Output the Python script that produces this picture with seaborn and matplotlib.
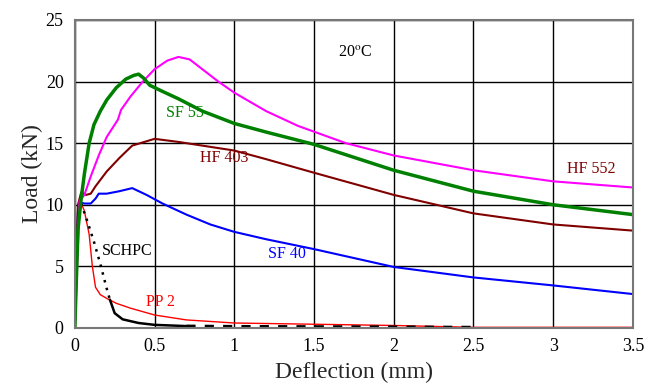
import matplotlib
matplotlib.use("Agg")
import matplotlib.pyplot as plt
import seaborn as sns
import pandas as pd

# ---- data ----
hf552_x = [0, 0.03, 0.06, 0.1, 0.15, 0.2, 0.27, 0.29, 0.35, 0.42, 0.5, 0.58, 0.65, 0.72, 0.8, 0.9, 1.0, 1.2, 1.4, 1.7, 2.0, 2.5, 3.0, 3.5]
hf552_y = [0, 10.3, 10.8, 12.3, 14.0, 15.5, 16.9, 17.7, 18.8, 19.9, 21.0, 21.7, 22.0, 21.8, 21.0, 20.0, 19.1, 17.6, 16.4, 15.0, 14.0, 12.8, 11.9, 11.4]

sf55_x = [0, 0.02, 0.04, 0.06, 0.09, 0.12, 0.16, 0.2, 0.26, 0.32, 0.37, 0.40, 0.43, 0.47, 0.55, 0.65, 0.8, 1.0, 1.2, 1.5, 2.0, 2.5, 3.0, 3.5]
sf55_y = [0, 8, 10.5, 12.5, 15.0, 16.5, 17.6, 18.5, 19.5, 20.2, 20.5, 20.6, 20.3, 19.7, 19.2, 18.6, 17.6, 16.6, 15.9, 14.9, 12.8, 11.1, 10.0, 9.2]

hf403_x = [0, 0.02, 0.04, 0.07, 0.1, 0.13, 0.2, 0.28, 0.36, 0.5, 0.65, 0.8, 1.0, 1.2, 1.5, 2.0, 2.5, 3.0, 3.5]
hf403_y = [0, 10, 11.0, 10.8, 10.9, 11.5, 12.7, 13.8, 14.8, 15.35, 15.1, 14.8, 14.4, 13.7, 12.6, 10.8, 9.3, 8.4, 7.9]

sf40_x = [0, 0.02, 0.03, 0.06, 0.1, 0.13, 0.15, 0.2, 0.28, 0.36, 0.45, 0.55, 0.7, 0.85, 1.0, 1.2, 1.5, 2.0, 2.5, 3.0, 3.5]
sf40_y = [0, 9.5, 10.2, 10.1, 10.1, 10.5, 10.9, 10.9, 11.1, 11.35, 10.8, 10.1, 9.2, 8.4, 7.8, 7.2, 6.4, 4.95, 4.1, 3.45, 2.75]

pp2_x = [0, 0.02, 0.035, 0.06, 0.09, 0.11, 0.13, 0.16, 0.2, 0.26, 0.35, 0.5, 0.7, 1.0, 1.5, 2.0, 2.5, 3.0, 3.5]
pp2_y = [0, 9.5, 10.3, 9.5, 7.6, 5.0, 3.3, 2.7, 2.4, 2.0, 1.6, 1.05, 0.65, 0.4, 0.3, 0.2, 0.05, 0.05, 0.05]

schpc_x = [0, 0.02, 0.04, 0.08, 0.12, 0.16, 0.2, 0.22, 0.25, 0.3, 0.4, 0.5, 0.7, 1.0, 1.5, 2.0, 2.5]
schpc_y = [0, 9.5, 10.1, 8.6, 7.0, 5.2, 3.2, 2.3, 1.2, 0.7, 0.4, 0.25, 0.15, 0.12, 0.1, 0.08, 0.05]

x_ticks = [0, 0.5, 1, 1.5, 2, 2.5, 3, 3.5]
x_tick_labels = ["0", "0.5", "1", "1.5", "2", "2.5", "3", "3.5"]
y_ticks = [0, 5, 10, 15, 20, 25]

sns.set_theme(style="white")
plt.rcParams["font.family"] = ["Liberation Serif", "DejaVu Serif"]
plt.rcParams["mathtext.fontset"] = "stix"

fig = plt.figure(figsize=(6.62, 3.84), dpi=100)
ax = fig.add_axes([0.113, 0.146, 0.843, 0.802])

def line(x, y, color, lw, ls="-"):
    df = pd.DataFrame({"x": x, "y": y})
    sns.lineplot(data=df, x="x", y="y", ax=ax, color=color, linewidth=lw,
                 linestyle=ls, sort=False, estimator=None, errorbar=None)

line(pp2_x, pp2_y, "#FF0000", 1.0)
# SCHPC: solid rise, dotted drop, solid tail, dashed end
line(schpc_x[:3], schpc_y[:3], "black", 1.5)
line(schpc_x[2:8], schpc_y[2:8], "black", 1.8, (0, (1, 2.2)))
line(schpc_x[7:13], schpc_y[7:13], "black", 1.8)
line(schpc_x[12:], schpc_y[12:], "black", 2.2, (0, (3, 3)))
line(sf40_x, sf40_y, "#0000FF", 1.5)
line(hf403_x, hf403_y, "#800000", 1.5)
line(hf552_x, hf552_y, "#FF00FF", 1.5)
line(sf55_x, sf55_y, "#008000", 2.5)

ax.set_xlim(0, 3.5)
ax.set_ylim(0, 25)
ax.set_xticks(x_ticks)
ax.set_xticklabels(x_tick_labels)
ax.set_yticks(y_ticks)
ax.grid(True, color="black", linewidth=1.0)
ax.set_axisbelow(True)
for s in ax.spines.values():
    s.set_color("#777777")
    s.set_linewidth(1.5)
ax.tick_params(axis="both", labelsize=13, colors="black", length=0)
ax.tick_params(axis="x", pad=7)
ax.tick_params(axis="y", pad=8)
ax.set_xlabel("Deflection (mm)", fontsize=17, labelpad=5)
ax.set_ylabel("Load (kN)", fontsize=17, labelpad=2)

fs = 11.5
ax.text(0.69, 17.45, "SF 55", color="#008000", fontsize=fs, ha="center", va="center")
ax.text(0.94, 13.8, "HF 403", color="#800000", fontsize=fs, ha="center", va="center")
ax.text(3.24, 12.9, "HF 552", color="#800000", fontsize=fs, ha="center", va="center")
ax.text(1.33, 6.0, "SF 40", color="#0000FF", fontsize=fs, ha="center", va="center")
ax.text(0.33, 6.25, "SCHPC", color="black", fontsize=fs, ha="center", va="center")
ax.text(0.54, 2.1, "PP 2", color="#FF0000", fontsize=fs, ha="center", va="center")
ax.text(1.76, 22.4, r"20$^{\mathrm{o}}$C", color="black", fontsize=fs, ha="center", va="center")

fig.savefig("out.png", dpi=100)
